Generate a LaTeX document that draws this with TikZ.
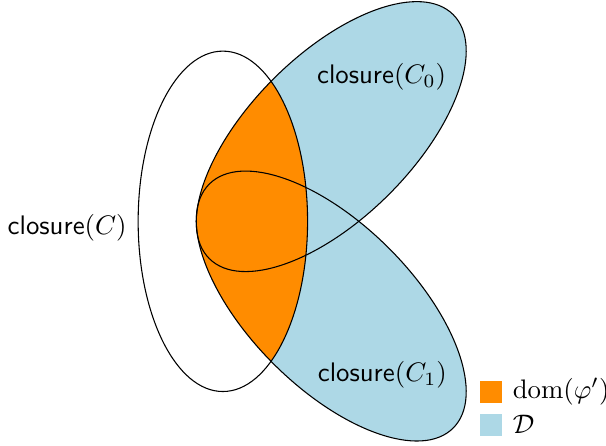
\documentclass[tikz,border=0pt]{standalone}
\usepackage{amsmath,amssymb}
\usepackage{xcolor}
\definecolor{domcol}{HTML}{FF8C00}
\definecolor{dcol}{HTML}{ADD8E6}
\usepackage{tikz}
\usetikzlibrary{positioning}

\begin{document}
\begin{tikzpicture}[
    setline/.style={draw=black, line width=0.4pt},
    keybox/.style={rectangle, inner sep=0pt, minimum size=8.2pt},
    keytext/.style={inner sep=0pt, anchor=west}]
  \useasboundingbox (0,0) rectangle (7.94,5.84);
  % centres of closure(C), closure(C_0), closure(C_1)
  \coordinate (cC) at (2.92, 2.94);
  \coordinate (cC0) at (4.34, 4.05);
  \coordinate (cC1) at (4.34, 1.83);
  % D: the union of the two closures
  \fill[dcol, rotate around={45:(cC0)}] (cC0) ellipse [x radius=2.26, y radius=1.07];
  \fill[dcol, rotate around={-45:(cC1)}] (cC1) ellipse [x radius=2.26, y radius=1.07];
  % dom(phi'): the part of D inside closure(C)
  \begin{scope}
    \clip (cC) ellipse [x radius=1.11, y radius=2.23];
    \fill[domcol, rotate around={45:(cC0)}] (cC0) ellipse [x radius=2.26, y radius=1.07];
    \fill[domcol, rotate around={-45:(cC1)}] (cC1) ellipse [x radius=2.26, y radius=1.07];
  \end{scope}
  % outlines
  \draw[setline] (cC) ellipse [x radius=1.11, y radius=2.23];
  \draw[setline, rotate around={45:(cC0)}] (cC0) ellipse [x radius=2.26, y radius=1.07];
  \draw[setline, rotate around={-45:(cC1)}] (cC1) ellipse [x radius=2.26, y radius=1.07];
  \node (labC) at (0.88, 2.86) {\textsf{closure}$(C)$};
  \node (labC0) at (5.00, 4.83) {\textsf{closure}$(C_0)$};
  \node (labC1) at (5.01, 0.93) {\textsf{closure}$(C_1)$};
  % legend
  \node[keybox, fill=domcol] (domkey) at (6.43, 0.71) {};
  \node[keybox, fill=dcol, below=1.31mm of domkey] (dkey) {};
  \node[keytext, right=1.31mm of domkey] (domtext) {$\mathrm{dom}(\varphi')$};
  \node[keytext, right=1.31mm of dkey] (dtext) {$\mathcal{D}$};
\end{tikzpicture}
\end{document}
